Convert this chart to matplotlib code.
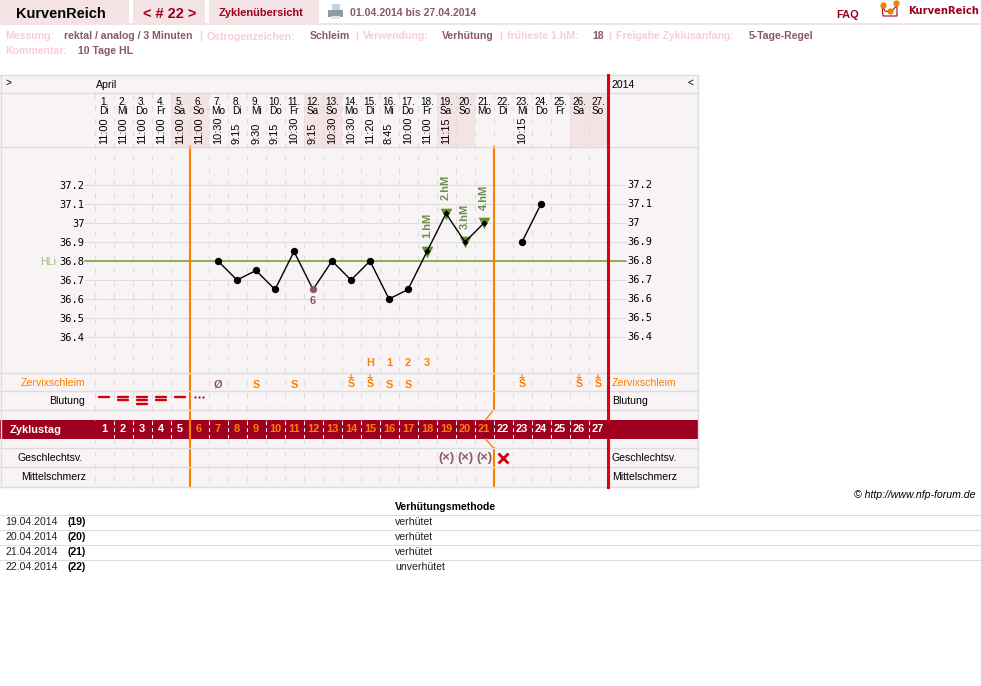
import matplotlib
matplotlib.use("Agg")
import matplotlib.pyplot as plt
from matplotlib.patches import Rectangle
from matplotlib.transforms import blended_transform_factory

plt.rcParams['font.family'] = ['Liberation Sans', 'DejaVu Sans']

# chart data
days = list(range(1, 28))
weekdays = ["Di", "Mi", "Do", "Fr", "Sa", "So", "Mo"] * 3 + ["Di", "Mi", "Do", "Fr", "Sa", "So"]
weekend = [5, 6, 12, 13, 19, 20, 26, 27]
times = ["11:00", "11:00", "11:00", "11:00", "11:00", "11:00", "10:30", "9:15", "9:30", "9:15",
         "10:30", "9:15", "10:30", "10:30", "11:20", "8:45", "10:00", "11:00", "11:15", "",
         "", "", "10:15", "", "", "", ""]
temp_days_a = [7, 8, 9, 10, 11, 12, 13, 14, 15, 16, 17, 18, 19, 20, 21]
temps_a = [36.8, 36.7, 36.75, 36.65, 36.85, 36.65, 36.8, 36.7, 36.8, 36.6, 36.65, 36.85, 37.05, 36.9, 37.0]
temp_days_b = [23, 24]
temps_b = [36.9, 37.1]
excluded_day = 12
excluded_temp = 36.65
hm_days = [18, 19, 20, 21]
hm_temps = [36.85, 37.05, 36.9, 37.0]
hm_labels = ["1.hM", "2.hM", "3.hM", "4.hM"]
coverline = 36.8
temp_ticks = [37.2, 37.1, 37.0, 36.9, 36.8, 36.7, 36.6, 36.5, 36.4]
temp_labels = ["37.2", "37.1", "37", "36.9", "36.8", "36.7", "36.6", "36.5", "36.4"]
peak_days = [15, 16, 17, 18]
peak_labels = ["H", "1", "2", "3"]
mucus_s_days = [9, 11, 16, 17]
mucus_plus_days = [14, 15, 23, 26, 27]
mucus_none_day = 7
bleeding_days = [1, 2, 3, 4, 5]
bleeding_bars = [1, 2, 3, 2, 1]
spotting_day = 6
fertile_start = 5.5
fertile_end = 21.5
protected_days = [19, 20, 21]
unprotected_day = 22
table_dates = ["19.04.2014", "20.04.2014", "21.04.2014", "22.04.2014"]
table_days = ["(19)", "(20)", "(21)", "(22)"]
table_methods = ["verhütet", "verhütet", "verhütet", "unverhütet"]

# colours
BG = "#f8f3f4"
TAB = "#f3e3e5"
BRAND = "#a00020"
BROWN = "#8a5a62"
PALE = "#f7cfd2"
GRID = "#dddddd"
ORANGE = "#ff8000"
RED = "#e00010"
GREEN = "#6ea32e"
HM_GREEN = "#6c8f4e"

fig = plt.figure(figsize=(9.81, 6.86), dpi=100)

# page in pixel coordinates
page = fig.add_axes([0, 0, 1, 1])
page.set_xlim(0, 981)
page.set_ylim(686, 0)
page.axis("off")

# days on x, temperature on y
L, R, T, B = 94.5, 607.5, 147, 373
ax = fig.add_axes([L / 981, 1 - B / 686, (R - L) / 981, (B - T) / 686])
ax.set_xlim(0.5, 27.5)
ax.set_ylim(36.8 - (B - 261) / 190, 36.8 + (261 - T) / 190)
ax.patch.set_visible(False)
for s in ax.spines.values():
    s.set_visible(False)
ax.set_xticks([])

rows = blended_transform_factory(ax.transData, page.transData)
grid_tr = blended_transform_factory(page.transData, ax.transData)


def txt(x, y, s, px=11, color="black", weight="normal", ha="left", **kw):
    page.text(x, y - 0.7, s, fontsize=px * 0.72, color=color, fontweight=weight, ha=ha, va="center_baseline", **kw)


def day_txt(d, y, s, px=11, color="black", weight="normal", **kw):
    ax.text(d, y, s, transform=rows, fontsize=px * 0.72, color=color, fontweight=weight,
            ha="center", va="center", clip_on=False, **kw)


def box(x, y, w, h, color, z=1):
    page.add_patch(Rectangle((x, y), w, h, facecolor=color, edgecolor="none", zorder=z))


# top tabs
box(0, 0, 129, 23, TAB)
box(133, 0, 72, 23, TAB)
box(209, 0, 110, 23, TAB)
box(0, 23, 981, 2, TAB)
txt(16, 13, "KurvenReich", 14.5, "black", "bold")
txt(143, 13, "< # 22 >", 14.5, BRAND, "bold")
txt(219, 12.5, "Zyklenübersicht", 11, BRAND, "bold")
txt(350, 12.5, "01.04.2014 bis 27.04.2014", 10.5, BROWN, "bold")
txt(836, 14.5, "FAQ", 11, BRAND, "bold")
txt(908, 10.5, "KurvenReich", 10, BRAND, "bold", family="DejaVu Sans")

# printer icon
box(332, 4, 8, 6, "#c8d4dc", 2)
box(328, 10, 15, 7, "#8f9ba3", 2)
box(331, 16, 9, 3, "#dfe5e8", 2)

# logo
page.plot([882, 885, 891, 897, 897, 883, 882], [5, 11, 12, 5, 16, 16, 5], color=BRAND, lw=0.8, zorder=2)
page.plot([883, 890, 896], [5, 11, 3], "o", color="#f08000", ms=3.5, zorder=3)

# info lines
txt(5, 36, "Messung:", 10.5, PALE, "bold")
txt(64, 36, "rektal / analog / 3 Minuten", 10.5, BROWN, "bold")
txt(199, 36, "|", 10.5, PALE, "bold")
txt(207, 36, "Östrogenzeichen:", 10.5, PALE, "bold")
txt(310, 36, "Schleim", 10.5, BROWN, "bold")
txt(355, 36, "|", 10.5, PALE, "bold")
txt(363, 36, "Verwendung:", 10.5, PALE, "bold")
txt(442, 36, "Verhütung", 10.5, BROWN, "bold")
txt(499, 36, "|", 10.5, PALE, "bold")
txt(507, 36, "früheste 1.hM:", 10.5, PALE, "bold")
txt(592, 36, "18", 10.5, BROWN, "bold")
txt(608, 36, "|", 10.5, PALE, "bold")
txt(616, 36, "Freigabe Zyklusanfang:", 10.5, PALE, "bold")
txt(749, 36, "5-Tage-Regel", 10.5, BROWN, "bold")
txt(5, 51, "Kommentar:", 10.5, PALE, "bold")
txt(78, 51, "10 Tage HL", 10.5, BROWN, "bold")

# chart panel
box(0, 75, 697.5, 412, BG, 0)
box(0, 420, 697.5, 19, BRAND, 1)
for d in weekend:
    ax.add_patch(Rectangle((d - 0.5, 93), 1, 54, transform=rows, facecolor=TAB, edgecolor="none",
                           clip_on=False, zorder=0))

# dashed day columns
for k in range(27):
    x = k + 0.5
    ax.plot([x, x], [93, 420], transform=rows, color=GRID, lw=0.75, ls=(0, (5, 7)), clip_on=False, zorder=1)
    ax.plot([x, x], [439, 487], transform=rows, color=GRID, lw=0.75, ls=(0, (5, 7)), clip_on=False, zorder=1)
    if k > 0:
        ax.plot([x, x], [421, 438], transform=rows, color="white", lw=0.75, ls=(0, (3.5, 3)), clip_on=False, zorder=3)

# temperature grid
for t in temp_ticks:
    ax.plot([85, 626], [t, t], transform=grid_tr, color=GRID, lw=0.75, clip_on=False, zorder=1)
ax.plot([85, 626], [coverline, coverline], transform=grid_tr, color=GREEN, lw=1.1, clip_on=False, zorder=2)
txt(40, 261.5, "HLi", 10.5, "#9dbb84")

ax.set_yticks(temp_ticks)
ax.set_yticklabels(temp_labels, family="DejaVu Sans Mono", fontsize=7.5)
ax.tick_params(axis="y", length=0, pad=7.2, labelleft=True, labelright=False)
for t, s in zip(temp_ticks, temp_labels):
    ax.text(627.5, t, s, transform=grid_tr, family="DejaVu Sans Mono", fontsize=7.5, ha="left", va="center", clip_on=False)

# fertile window and cycle end
ax.plot([fertile_start, fertile_start], [147, 487], transform=rows, color=ORANGE, lw=1.5, clip_on=False, zorder=4)
ax.plot([fertile_end, fertile_end], [147, 410], transform=rows, color=ORANGE, lw=1.5, clip_on=False, zorder=4)
ax.plot([fertile_end, fertile_end], [448, 487], transform=rows, color=ORANGE, lw=1.5, clip_on=False, zorder=4)
ax.plot([fertile_end, fertile_end - 0.42], [410, 420], transform=rows, color=ORANGE, lw=1, clip_on=False, zorder=4)
ax.plot([fertile_end - 0.42, fertile_end], [439, 448], transform=rows, color=ORANGE, lw=1, clip_on=False, zorder=4)
ax.plot([27.5, 27.5], [75, 420], transform=rows, color=RED, lw=2.2, clip_on=False, zorder=6)
ax.plot([27.5, 27.5], [439, 487], transform=rows, color=RED, lw=2.2, clip_on=False, zorder=6)

# row borders, these sit over the orange lines
for y in [75, 93, 147, 373, 391, 410, 448, 467, 486.5]:
    ax.plot([0, 697.5], [y, y], transform=page.transData, color=GRID, lw=1, clip_on=False, zorder=5)
ax.plot([0.5, 0.5], [75, 487], transform=page.transData, color=GRID, lw=1, clip_on=False, zorder=5)
ax.plot([697.5, 697.5], [75, 487], transform=page.transData, color=GRID, lw=1, clip_on=False, zorder=5)

# date header
txt(5, 83, ">", 10)
txt(96, 85, "April", 10.5)
txt(612, 85, "2014", 10.5)
txt(687, 83, "<", 10)
for d, w, tm in zip(days, weekdays, times):
    day_txt(d, 102, str(d) + ".", 10)
    day_txt(d, 111.5, w, 10)
    if tm:
        ax.text(d, 144, tm, transform=rows, fontsize=11 * 0.72, rotation=90, ha="center", va="bottom", clip_on=False)

# temperature curve
ax.scatter(hm_days, [t - 0.002 for t in hm_temps], marker="v", s=70, color="#5f9130", linewidths=0, zorder=7, clip_on=False)
ax.plot(temp_days_a, temps_a, color="black", lw=1, zorder=8)
ax.plot(temp_days_b, temps_b, color="black", lw=1, zorder=8)
ax.scatter([d for d in temp_days_a if d < 18 and d != excluded_day],
           [t for d, t in zip(temp_days_a, temps_a) if d < 18 and d != excluded_day],
           s=28, color="black", linewidths=0, zorder=9)
ax.scatter(temp_days_b, temps_b, s=28, color="black", linewidths=0, zorder=9)
ax.scatter(hm_days, hm_temps, marker="D", s=10, color="black", linewidths=0, zorder=9)
ax.scatter([excluded_day], [excluded_temp], s=28, color=BROWN, linewidths=0, zorder=9)
day_txt(excluded_day, 301.5, "6", 11, BROWN, "bold")
for d, t, s in zip(hm_days, hm_temps, hm_labels):
    ax.annotate(s, (d, t), xytext=(0, 13), textcoords="offset pixels", rotation=90, ha="center", va="bottom",
                fontsize=7.9, fontweight="bold", color=HM_GREEN, zorder=9)

# peak day and mucus rows
for d, s in zip(peak_days, peak_labels):
    day_txt(d, 363.5, s, 11, ORANGE, "bold")
day_txt(mucus_none_day, 384, "Ø", 11, BROWN, "bold")
for d in mucus_s_days:
    day_txt(d, 384.5, "S", 11, ORANGE, "bold")
for d in mucus_plus_days:
    day_txt(d, 381, "+\nS", 10.5, ORANGE, "bold", linespacing=0.62)

# bleeding row
for d, n in zip(bleeding_days, bleeding_bars):
    for i in range(n):
        y = 396.5 + 3.8 * i
        ax.plot([d - 0.26, d + 0.26], [y, y], transform=rows, color="#d00010", lw=1.7,
                solid_capstyle="round", clip_on=False, zorder=4)
for off in [-0.19, 0, 0.19]:
    ax.plot([spotting_day + off], [396.5], "o", transform=rows, color="#d00010", ms=1.6, mew=0, clip_on=False, zorder=4)

# cycle day band
txt(10, 429.5, "Zyklustag", 11, "white", "bold", zorder=4)
for d in days:
    day_col = ORANGE if 6 <= d <= 21 else "white"
    day_txt(d, 429.5, str(d), 11, day_col, "bold", zorder=7)

# intercourse row
for d in protected_days:
    day_txt(d, 457.5, "(×)", 13, BROWN, "bold")
ax.plot([unprotected_day], [457.5], "x", transform=rows, color="#d00010", ms=6.5, mew=2, clip_on=False, zorder=7)

# row labels
txt(85, 382.5, "Zervixschleim", 10.5, ORANGE, ha="right")
txt(85, 401, "Blutung", 10.5, ha="right")
txt(83, 458, "Geschlechtsv.", 10.5, ha="right")
txt(86, 477, "Mittelschmerz", 10.5, ha="right")
txt(612, 382.5, "Zervixschleim", 10.5, ORANGE)
txt(612, 401, "Blutung", 10.5)
txt(612, 458, "Geschlechtsv.", 10.5)
txt(612, 477, "Mittelschmerz", 10.5)

# footer table
txt(976, 494.5, "© http://www.nfp-forum.de", 10.5, ha="right", style="italic")
txt(395, 507, "Verhütungsmethode", 10.5, weight="bold")
for i, (dt, dy, m) in enumerate(zip(table_dates, table_days, table_methods)):
    y = 522 + 15 * i
    txt(5, y, dt, 10.5, "#222222")
    txt(68, y, dy, 10.5, "black", "bold")
    txt(395, y, m, 10.5, "#222222")
    page.plot([0, 981], [y - 7.5, y - 7.5], color=GRID, lw=0.75)

fig.savefig("out.png", dpi=100)
